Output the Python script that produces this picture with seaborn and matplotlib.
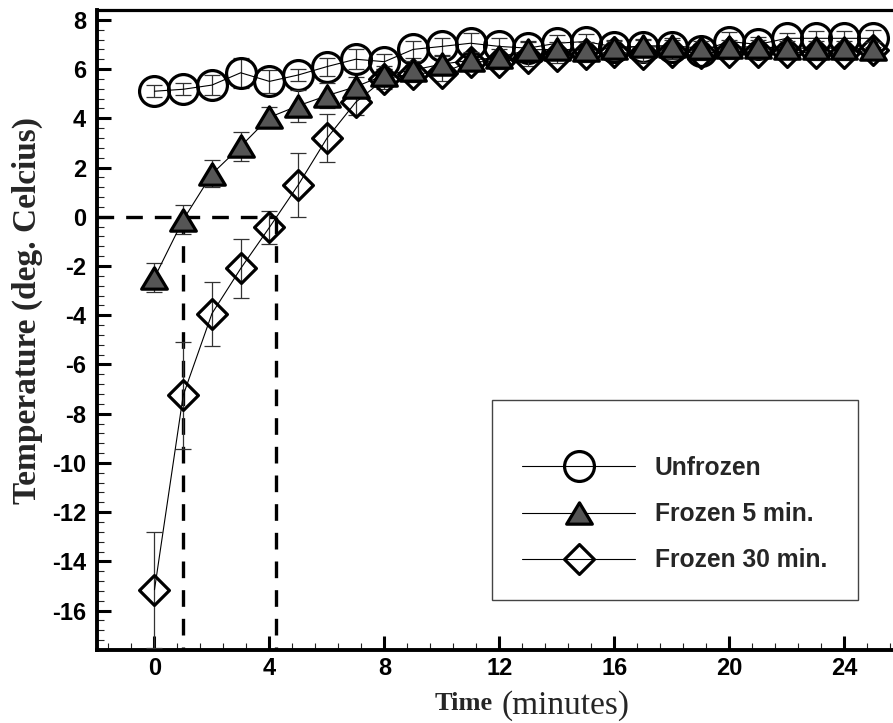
import numpy as np
import pandas as pd
import matplotlib
matplotlib.use("Agg")
import matplotlib.pyplot as plt
import seaborn as sns
from matplotlib.path import Path
from matplotlib.patches import Rectangle
from matplotlib.ticker import MultipleLocator

# ---------------- data ----------------
time_min = list(range(26))

unfrozen = [5.10, 5.18, 5.35, 5.85, 5.50, 5.76, 6.10, 6.40, 6.30, 6.80,
            6.92, 7.05, 6.92, 6.85, 7.05, 7.12, 6.90, 6.90, 6.90, 6.73,
            7.12, 7.00, 7.25, 7.25, 7.25, 7.25]
unfrozen_err = [0.24, 0.25, 0.40, 0.60, 0.46, 0.25, 0.37, 0.40, 0.30, 0.35,
                0.35, 0.40, 0.35, 0.30, 0.33, 0.30, 0.30, 0.30, 0.30, 0.30,
                0.38, 0.30, 0.22, 0.30, 0.30, 0.35]

frozen5 = [-2.47, -0.12, 1.74, 2.86, 4.04, 4.51, 4.92, 5.28, 5.76, 5.96,
           6.20, 6.36, 6.48, 6.78, 6.80, 6.78, 6.85, 6.94, 6.95, 6.85,
           6.90, 6.90, 6.85, 6.85, 6.85, 6.80]
frozen5_err = [0.60, 0.60, 0.55, 0.60, 0.40, 0.65, 0.50, 0.40, 0.35, 0.35,
               0.35, 0.35, 0.35, 0.30, 0.30, 0.30, 0.30, 0.30, 0.30, 0.30,
               0.30, 0.30, 0.30, 0.30, 0.30, 0.30]

frozen30 = [-15.15, -7.25, -3.93, -2.10, -0.43, 1.29, 3.19, 4.65, 5.60, 5.82,
            5.85, 6.30, 6.30, 6.44, 6.53, 6.60, 6.70, 6.60, 6.70, 6.65,
            6.70, 6.70, 6.70, 6.65, 6.65, 6.78]
frozen30_err = [2.35, 2.17, 1.30, 1.19, 0.66, 1.29, 0.98, 0.50, 0.40, 0.35,
                0.35, 0.30, 0.30, 0.30, 0.30, 0.30, 0.30, 0.30, 0.30, 0.30,
                0.30, 0.30, 0.30, 0.30, 0.30, 0.30]

series_labels = ["Unfrozen", "Frozen 5 min.", "Frozen 30 min."]

# thawing reference: time when 0 deg C reached
thaw_times = [1.0, 4.24]

x_ticks = [0, 4, 8, 12, 16, 20, 24]
y_ticks = [8, 6, 4, 2, 0, -2, -4, -6, -8, -10, -12, -14, -16]

# ---------------- style ----------------
sns.set_theme(style="white")
plt.rcParams["font.family"] = ["Liberation Sans", "DejaVu Sans"]
plt.rcParams["axes.unicode_minus"] = False

W, H = 893, 723
fig = plt.figure(figsize=(W / 100, H / 100), dpi=100)
ax = fig.add_axes([97 / W, 73 / H, (W - 97) / W, 640 / H])

tri_marker = Path([(-1, -0.83), (1, -0.83), (0, 0.83), (-1, -0.83)],
                  [Path.MOVETO, Path.LINETO, Path.LINETO, Path.CLOSEPOLY])
dia_marker = Path([(0, 1), (1, 0), (0, -1), (-1, 0), (0, 1)],
                  [Path.MOVETO, Path.LINETO, Path.LINETO, Path.LINETO, Path.CLOSEPOLY])

df = pd.DataFrame({
    "time": time_min * 3,
    "temp": unfrozen + frozen5 + frozen30,
    "err": unfrozen_err + frozen5_err + frozen30_err,
    "group": [series_labels[0]] * 26 + [series_labels[1]] * 26 + [series_labels[2]] * 26,
})

styles = {
    series_labels[0]: dict(marker="o", markersize=21.5, markerfacecolor="none", z=3),
    series_labels[1]: dict(marker=tri_marker, markersize=18.5, markerfacecolor="#555555", z=5),
    series_labels[2]: dict(marker=dia_marker, markersize=21.5, markerfacecolor="none", z=4),
}

# dashed reference lines
ax.plot([-2, thaw_times[1]], [0, 0], color="black", lw=2.4, ls=(0, (5, 3.6)), zorder=2)
for tt in thaw_times:
    ax.plot([tt, tt], [0, -17.6], color="black", lw=2.4, ls=(0, (5, 3.6)), zorder=2)

for lab in series_labels:
    sub = df[df["group"] == lab]
    st = styles[lab]
    ax.errorbar(sub["time"], sub["temp"], yerr=sub["err"], fmt="none",
                ecolor="#333333", elinewidth=0.9, capsize=5.5, capthick=0.9,
                zorder=st["z"] - 0.5)
    sns.lineplot(data=sub, x="time", y="temp", ax=ax, color="black", lw=0.8,
                 marker=st["marker"], markersize=st["markersize"],
                 markerfacecolor=st["markerfacecolor"], markeredgecolor="black",
                 markeredgewidth=2.3, label=lab, legend=False, errorbar=None,
                 estimator=None, zorder=st["z"])

ax.set_xlim(-2, (W - 154.3) / 28.75)
ax.set_ylim(-17.6, 8.4)
ax.set_xlabel("")
ax.set_ylabel("")

ax.set_xticks(x_ticks)
ax.set_yticks(y_ticks)
ax.xaxis.set_minor_locator(MultipleLocator(0.8))
ax.yaxis.set_minor_locator(MultipleLocator(0.4))
ax.tick_params(which="major", direction="in", length=10, width=2.2,
               colors="black", labelsize=17)
ax.tick_params(axis="y", which="major", pad=8)
ax.tick_params(axis="x", which="major", pad=5)
ax.tick_params(which="minor", direction="in", length=5, width=0.8, color="#222222")
ax.tick_params(left=True, bottom=True, which="both")
for lbl in ax.get_xticklabels() + ax.get_yticklabels():
    lbl.set_fontweight("bold")

for side in ["left", "bottom"]:
    ax.spines[side].set_linewidth(2.8)
    ax.spines[side].set_color("black")
ax.spines["top"].set_linewidth(2.3)
ax.spines["top"].set_color("black")
ax.spines["right"].set_visible(False)
ax.grid(False)

# legend
handles, labels = ax.get_legend_handles_labels()
leg = ax.legend(handles, labels, loc="upper left",
                bbox_to_anchor=(522 / W, (H - 456) / H), bbox_transform=fig.transFigure,
                frameon=False, borderpad=0, borderaxespad=0, handlelength=4.6,
                handletextpad=0.8, labelspacing=0.9,
                prop={"family": "Liberation Sans", "weight": "bold", "size": 17.7})
fig.add_artist(Rectangle((492 / W, (H - 600) / H), 366 / W, 200 / H,
                         transform=fig.transFigure, fill=False,
                         edgecolor="#444444", lw=1.0))

# axis titles
fig.text(27 / W, (H - 311) / H, "Temperature (deg. Celcius)", rotation=90,
         ha="center", va="center", family="Liberation Serif", weight="bold", size=24)
fig.text(435 / W, (H - 710) / H, "Time", ha="left", va="baseline",
         family="Liberation Serif", weight="bold", size=19)
fig.text(502 / W, (H - 714) / H, "(minutes)", ha="left", va="baseline",
         family="Liberation Serif", weight="normal", size=24)

fig.savefig("out.png", dpi=100)
